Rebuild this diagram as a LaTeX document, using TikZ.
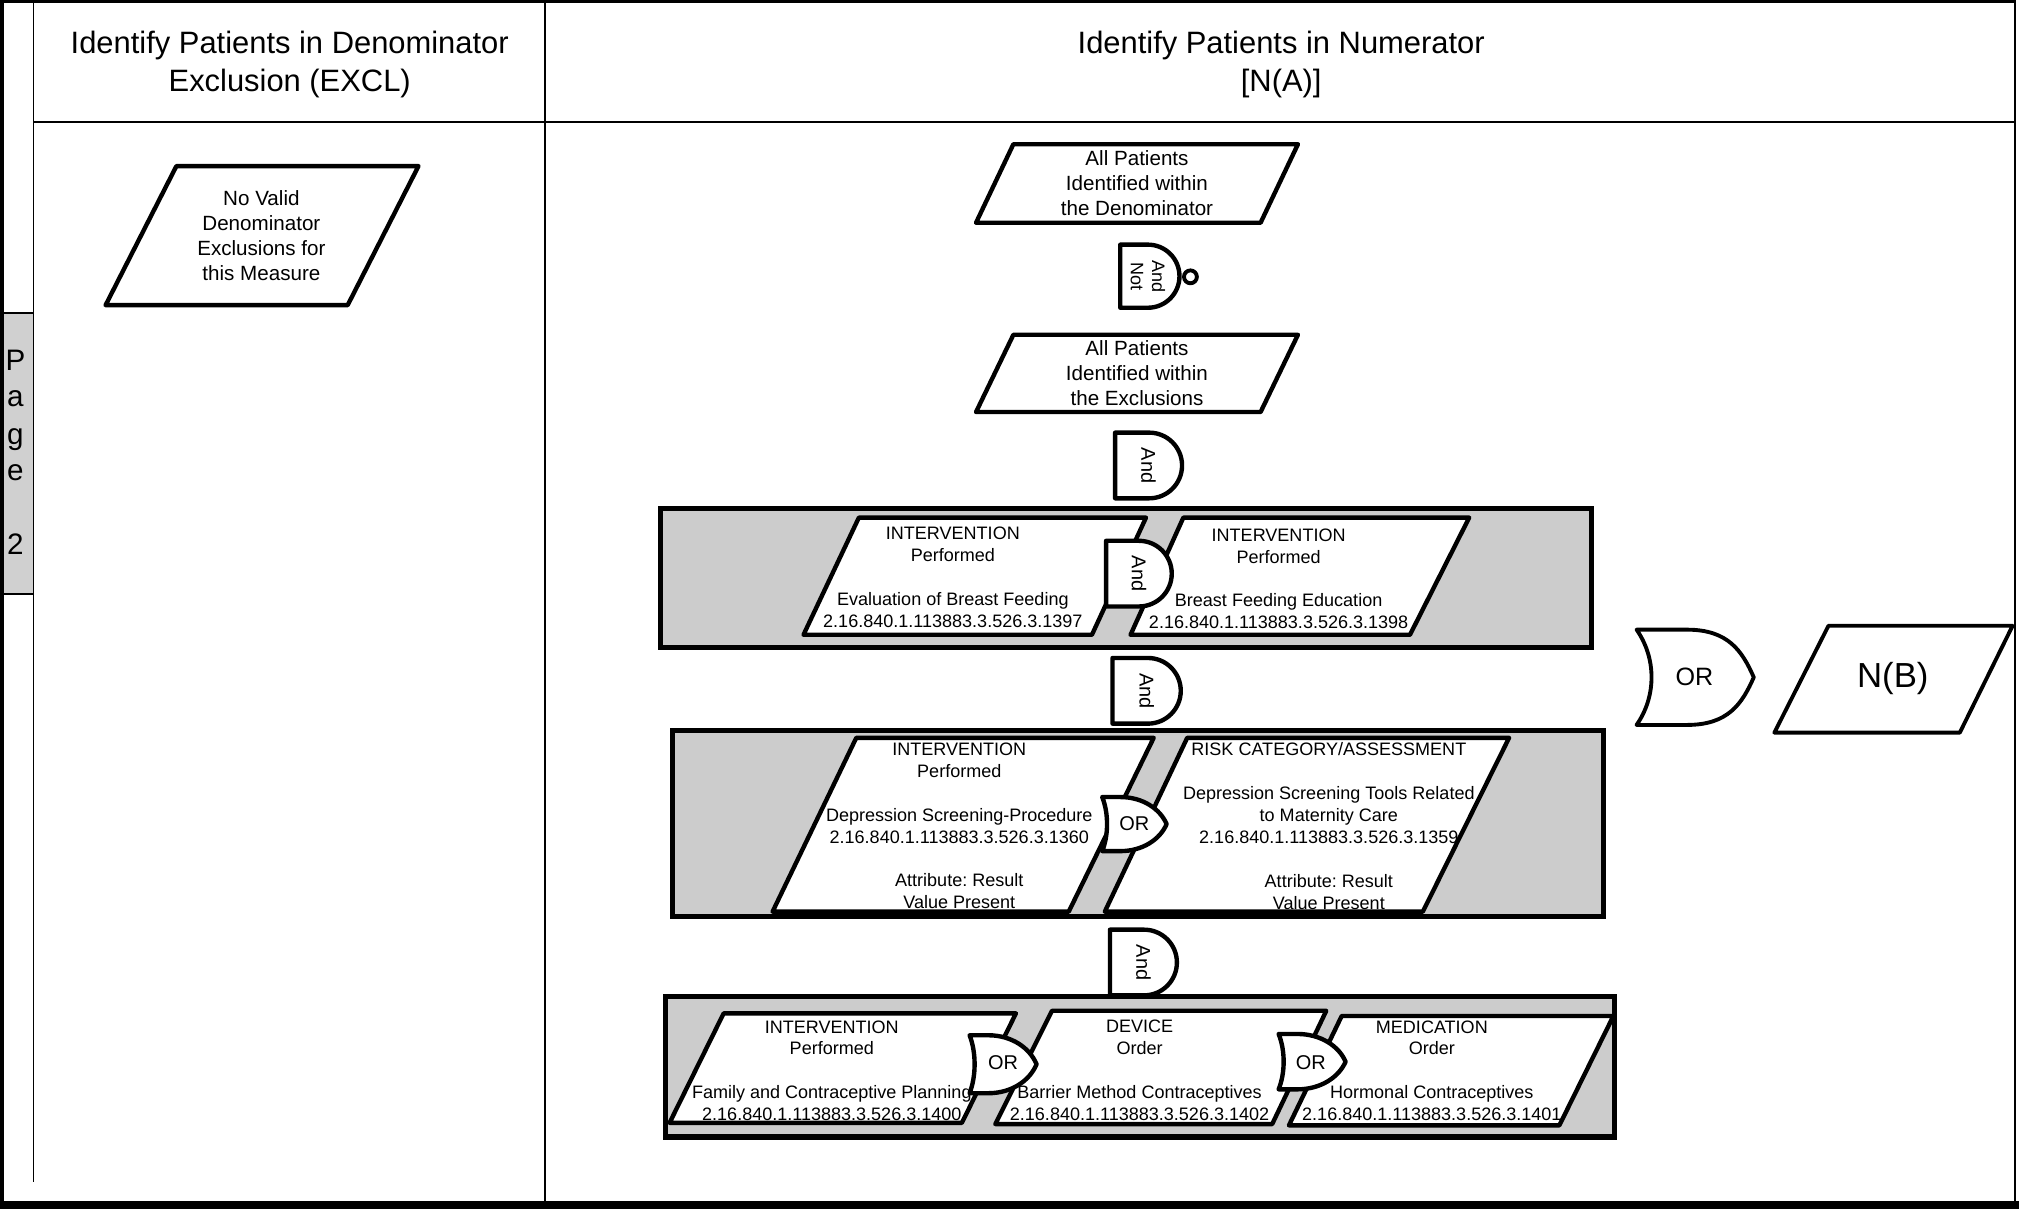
\documentclass[tikz,border=0pt]{standalone}
\usepackage{fontspec}
\setmainfont{Liberation Sans}
\frenchspacing
\definecolor{boxgray}{RGB}{204,204,204}
\definecolor{tabgray}{RGB}{208,208,208}
\newcommand\andgate[4]{%
  \pgfmathsetmacro\gR{#4/2}%
  \pgfmathsetmacro\gX{#1+#3-\gR}%
  \pgfmathsetmacro\gK{0.5523*\gR}%
  \pgfmathsetmacro\gY{#2+\gR}%
  \pgfmathsetmacro\gB{#2+#4}%
  \draw[gate] (#1,#2) -- (\gX,#2) .. controls ({\gX+\gK},#2) and ({\gX+\gR},{\gY-\gK}) .. ({\gX+\gR},\gY) .. controls ({\gX+\gR},{\gY+\gK}) and ({\gX+\gK},\gB) .. (\gX,\gB) -- (#1,\gB) -- cycle;}
\newcommand\orgate[6]{%
  \pgfmathsetmacro\gA{#1+#5*#3}%
  \pgfmathsetmacro\gB{#2+#4}%
  \draw[gate] (#1,#2) -- (\gA,#2) .. controls ({#1+(#5+0.35)*#3},#2) and ({#1+0.9*#3},{#2+0.22*#4}) .. ({#1+#3},{#2+0.5*#4}) .. controls ({#1+0.9*#3},{#2+0.78*#4}) and ({#1+(#5+0.35)*#3},\gB) .. (\gA,\gB) -- (#1,\gB) .. controls ({#1+#6*#3},{#2+0.7*#4}) and ({#1+#6*#3},{#2+0.3*#4}) .. (#1,#2) -- cycle;}
\begin{document}
\begin{tikzpicture}[x=1pt,y=-1pt,
  para/.style={draw=black, line width=3.4pt, fill=white, line join=round},
  cont/.style={draw=black, line width=4pt, fill=boxgray},
  gate/.style={draw=black, line width=3.4pt, fill=white, line join=round},
  frame/.style={draw=black, line width=1.5pt},
  small/.style={align=center, inner sep=0pt, font=\fontsize{14}{17}\selectfont},
  mid/.style={align=center, inner sep=0pt, font=\fontsize{16}{19.5}\selectfont},
  hdr/.style={align=center, inner sep=0pt, font=\fontsize{24}{29}\selectfont},
  gtxt/.style={inner sep=0pt, font=\fontsize{15.5}{15.5}\selectfont},
  tabtxt/.style={inner sep=0pt, anchor=base, font=\fontsize{23}{23}\selectfont},
]
\useasboundingbox (0,0) rectangle (1568,939);
\fill[white] (0,0) rectangle (1568,939);

% ---------- frame ----------
\draw[line width=2pt] (0,1) -- (1566,1);
\draw[line width=2pt] (1565,0) -- (1565,934);
\draw[frame] (26,0) -- (26,918);
\draw[frame] (423,0) -- (423,934);
\draw[frame] (26,95) -- (1565,95);
\draw[fill=tabgray, line width=1.5pt] (0,243) rectangle (26,461);
\draw[line width=3pt] (1.5,0) -- (1.5,934);
\fill[black] (0,933) rectangle (1568,939);

% page tab
\node[tabtxt] (pgP) at (12,287.5) {P};
\node[tabtxt] (pgA) at (12,316) {a};
\node[tabtxt] (pgG) at (12,345) {g};
\node[tabtxt] (pgE) at (12,373.5) {e};
\node[tabtxt] (pgTwo) at (12,431) {2};

% headers
\node[hdr] (hdrL) at (225,50) {Identify Patients in Denominator\\Exclusion (EXCL)};
\node[hdr] (hdrR) at (995,50) {Identify Patients in Numerator\\{[N(A)]}};

% ---------- left column ----------
\draw[para] (137,129) -- (325,129) -- (270,237) -- (82,237) -- cycle;
\node[mid] (noexcl) at (203,183) {No Valid\\Denominator\\Exclusions for\\this Measure};

% ---------- numerator column ----------
\draw[para] (787,112) -- (1008,112) -- (979,173) -- (758,173) -- cycle;
\node[mid] (alldenom) at (883,142) {All Patients\\Identified within\\the Denominator};

\andgate{870}{190}{46}{49}
\node[inner sep=0pt, rotate=-90, align=center, font=\fontsize{14}{16.5}\selectfont] (andnot) at (891.5,214.5) {And\\Not};
\draw[line width=3pt, fill=white] (924.5,215) circle[radius=5pt];

\draw[para] (787,260) -- (1008,260) -- (979,320) -- (758,320) -- cycle;
\node[mid] (allexcl) at (883,290) {All Patients\\Identified within\\the Exclusions};

\andgate{866}{336}{52}{51}
\node[gtxt, rotate=-90] (and1) at (892,361.5) {And};

% container 1
\draw[cont] (513,395) rectangle (1236,503);
\draw[para] (667,402) -- (890,402) -- (848,493) -- (624,493) -- cycle;
\node[small] (evalbf) at (740,448.5) {INTERVENTION\\Performed\\\mbox{}\\Evaluation of Breast Feeding\\2.16.840.1.113883.3.526.3.1397};
\draw[para] (919,402) -- (1141,402) -- (1095,493) -- (878,493) -- (919,402) -- cycle;
\node[small] (bfedu) at (993,449.5) {INTERVENTION\\Performed\\\mbox{}\\Breast Feeding Education\\2.16.840.1.113883.3.526.3.1398};
\andgate{859}{420}{51}{51}
\node[gtxt, rotate=-90] (andc1) at (884.5,445.5) {And};

\andgate{864}{511}{53}{51}
\node[gtxt, rotate=-90] (and2) at (890.5,536.5) {And};

% container 2
\draw[cont] (522,567) rectangle (1245,712);
\draw[para] (665,573) -- (896,573) -- (830,708) -- (600,708) -- cycle;
\node[small] (depproc) at (745,641.5) {INTERVENTION\\Performed\\\mbox{}\\Depression Screening-Procedure\\2.16.840.1.113883.3.526.3.1360\\\mbox{}\\Attribute: Result\\Value Present};
\draw[para] (922,573) -- (1172,573) -- (1105,708) -- (858,708) -- cycle;
\node[small] (deptools) at (1032,641.5) {RISK CATEGORY/ASSESSMENT\\\mbox{}\\Depression Screening Tools Related\\to Maternity Care\\2.16.840.1.113883.3.526.3.1359\\\mbox{}\\Attribute: Result\\Value Present};
\orgate{856}{619}{50}{42}{0.28}{0.1}
\node[gtxt] (orc2) at (881,640) {OR};

\andgate{862}{722}{52}{51}
\node[gtxt, rotate=-90] (and3) at (888,747.5) {And};

% container 3
\draw[cont] (517,774) rectangle (1254,883);
\draw[para] (562,787) -- (789,787) -- (747,872) -- (520,872) -- cycle;
\node[small] (famplan) at (646,831.5) {INTERVENTION\\Performed\\\mbox{}\\Family and Contraceptive Planning\\2.16.840.1.113883.3.526.3.1400};
\draw[para] (817,785) -- (1030,785) -- (988,873) -- (773,873) -- cycle;
\node[small] (barrier) at (885,831) {DEVICE\\Order\\\mbox{}\\Barrier Method Contraceptives\\2.16.840.1.113883.3.526.3.1402};
\draw[para] (1042,789) -- (1253,789) -- (1211,874) -- (1001,874) -- cycle;
\node[small] (hormonal) at (1112,831.5) {MEDICATION\\Order\\\mbox{}\\Hormonal Contraceptives\\2.16.840.1.113883.3.526.3.1401};
\orgate{753}{804}{52}{45}{0.28}{0.1}
\node[gtxt] (orc3a) at (779,825) {OR};
\orgate{993}{803}{52}{43}{0.28}{0.1}
\node[gtxt] (orc3b) at (1018,825) {OR};

% ---------- result ----------
\begin{scope}[gate/.style={draw=black, line width=3pt, fill=white, line join=round}]
\orgate{1271}{489}{91}{74}{0.43}{0.17}
\end{scope}
\node[inner sep=0pt, font=\fontsize{19.5}{19.5}\selectfont] (orbig) at (1316,526) {OR};
\draw[draw=black, line width=3pt, fill=white, line join=round] (1420,486) -- (1563,486) -- (1522,569) -- (1378,569) -- cycle;
\node[inner sep=0pt, font=\fontsize{27}{27}\selectfont] (nb) at (1470,527) {N(B)};
\end{tikzpicture}
\end{document}
